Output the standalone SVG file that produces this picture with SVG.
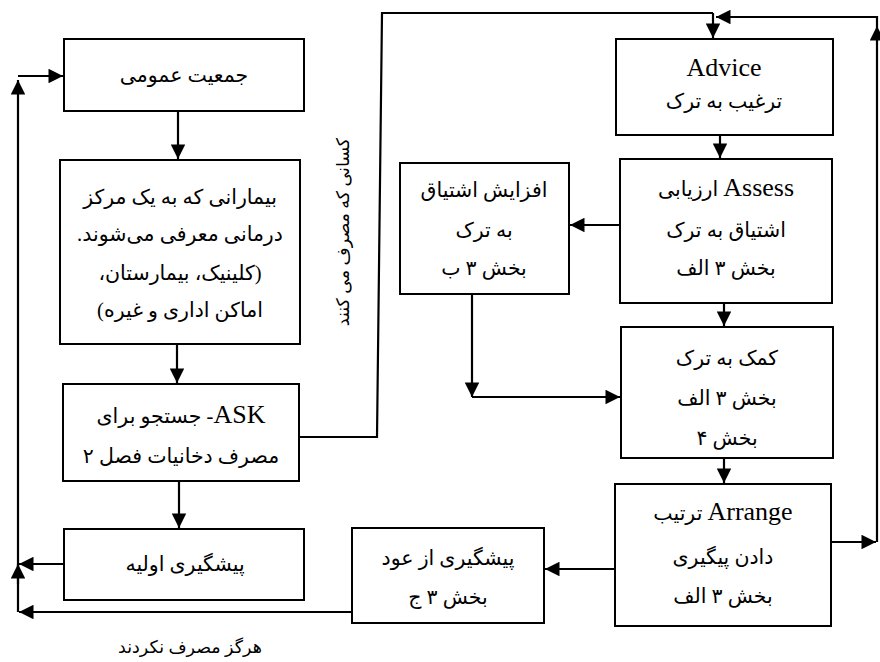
<svg xmlns="http://www.w3.org/2000/svg" width="880" height="662" viewBox="0 0 880 662">
<style>
.box{fill:#fff;stroke:#000;stroke-width:2}
.ln{fill:none;stroke:#000;stroke-width:2.2}
text{font-family:"Liberation Serif","DejaVu Sans",serif;font-size:20.5px;fill:#000;text-anchor:middle;direction:rtl}
.lat{font-size:26px}
</style>
<defs>
<marker id="ah" viewBox="0 0 10 10" refX="10" refY="5" markerWidth="7.5" markerHeight="6.6" markerUnits="strokeWidth" orient="auto">
<path d="M0,0 L10,5 L0,10 Z" fill="#000"/>
</marker>
</defs>
<rect width="880" height="662" fill="#fff"/>
<g id="connectors">
<line class="ln" x1="178" y1="111" x2="178" y2="159" marker-end="url(#ah)"/>
<line class="ln" x1="177" y1="344" x2="177" y2="383" marker-end="url(#ah)"/>
<line class="ln" x1="179" y1="481" x2="179" y2="528" marker-end="url(#ah)"/>
<line class="ln" x1="64" y1="564" x2="19" y2="564" marker-end="url(#ah)"/>
<line class="ln" x1="18" y1="584" x2="18" y2="564" marker-end="url(#ah)"/>
<line class="ln" x1="18" y1="612" x2="18" y2="80" marker-end="url(#ah)"/>
<line class="ln" x1="352" y1="612" x2="19" y2="612" marker-end="url(#ah)"/>
<line class="ln" x1="18" y1="76" x2="63" y2="76" marker-end="url(#ah)"/>
<polyline class="ln" points="299,437 377,437 382,13 713,13"/>
<line class="ln" x1="713" y1="13" x2="713" y2="38" marker-end="url(#ah)"/>
<line class="ln" x1="831" y1="542" x2="876" y2="542" marker-end="url(#ah)"/>
<line class="ln" x1="877" y1="542" x2="877" y2="26" marker-end="url(#ah)"/>
<polyline class="ln" points="877,26 877,17 730,17"/>
<line class="ln" x1="877" y1="17" x2="716" y2="17" marker-end="url(#ah)"/>
<line class="ln" x1="720" y1="135" x2="720" y2="158" marker-end="url(#ah)"/>
<line class="ln" x1="620" y1="225" x2="570" y2="225" marker-end="url(#ah)"/>
<line class="ln" x1="724" y1="303" x2="724" y2="326" marker-end="url(#ah)"/>
<line class="ln" x1="472" y1="294" x2="472" y2="397" marker-end="url(#ah)"/>
<line class="ln" x1="472" y1="397" x2="620" y2="397" marker-end="url(#ah)"/>
<line class="ln" x1="724" y1="458" x2="724" y2="483" marker-end="url(#ah)"/>
<line class="ln" x1="615" y1="569" x2="545" y2="569" marker-end="url(#ah)"/>
</g>
<g id="n-general">
<rect class="box" x="64" y="39" width="240" height="72"/>
<text x="184" y="82">جمعیت عمومی</text>
</g>
<g id="n-patients">
<rect class="box" x="60" y="160" width="240" height="184"/>
<text x="180" y="204">بیمارانی که به یک مرکز</text>
<text x="180" y="241">درمانی معرفی می‌شوند.</text>
<text x="180" y="280">(کلینیک، بیمارستان،</text>
<text x="180" y="317">اماکن اداری و غیره)</text>
</g>
<g id="n-ask">
<rect class="box" x="63" y="384" width="236" height="97"/>
<text x="181" y="423"><tspan class="lat">ASK</tspan>- جستجو برای</text>
<text x="181" y="463">مصرف دخانیات فصل ۲</text>
</g>
<g id="n-primary">
<rect class="box" x="64" y="529" width="240" height="71"/>
<text x="185" y="571">پیشگیری اولیه</text>
</g>
<g id="n-relapse">
<rect class="box" x="352" y="528" width="192" height="95"/>
<text x="448" y="565">پیشگیری از عود</text>
<text x="448" y="604">بخش ۳ ج</text>
</g>
<g id="n-arrange">
<rect class="box" x="615" y="484" width="216" height="142"/>
<text x="723" y="520"><tspan class="lat">Arrange</tspan> ترتیب</text>
<text x="723" y="564">دادن پیگیری</text>
<text x="723" y="603">بخش ۳ الف</text>
</g>
<g id="n-assist">
<rect class="box" x="621" y="327" width="212" height="131"/>
<text x="727" y="365">کمک به ترک</text>
<text x="727" y="405">بخش ۳ الف</text>
<text x="727" y="445">بخش ۴</text>
</g>
<g id="n-assess">
<rect class="box" x="620" y="159" width="212" height="144"/>
<text x="726" y="196"><tspan class="lat">Assess</tspan> ارزیابی</text>
<text x="726" y="237">اشتیاق به ترک</text>
<text x="726" y="275">بخش ۳ الف</text>
</g>
<g id="n-advice">
<rect class="box" x="616" y="39" width="217" height="96"/>
<text class="lat" x="724" y="76" style="direction:ltr">Advice</text>
<text x="724" y="108">ترغیب به ترک</text>
</g>
<g id="n-motivate">
<rect class="box" x="400" y="163" width="169" height="131"/>
<text x="484" y="197">افزایش اشتیاق</text>
<text x="484" y="237">به ترک</text>
<text x="484" y="275">بخش ۳ ب</text>
</g>
<g id="labels">
<text x="0" y="0" transform="translate(349,232) rotate(-90)" style="font-size:17.5px">کسانی که مصرف می کنند</text>
<text x="190" y="653" style="font-size:17.5px">هرگز مصرف نکردند</text>
</g>
</svg>
